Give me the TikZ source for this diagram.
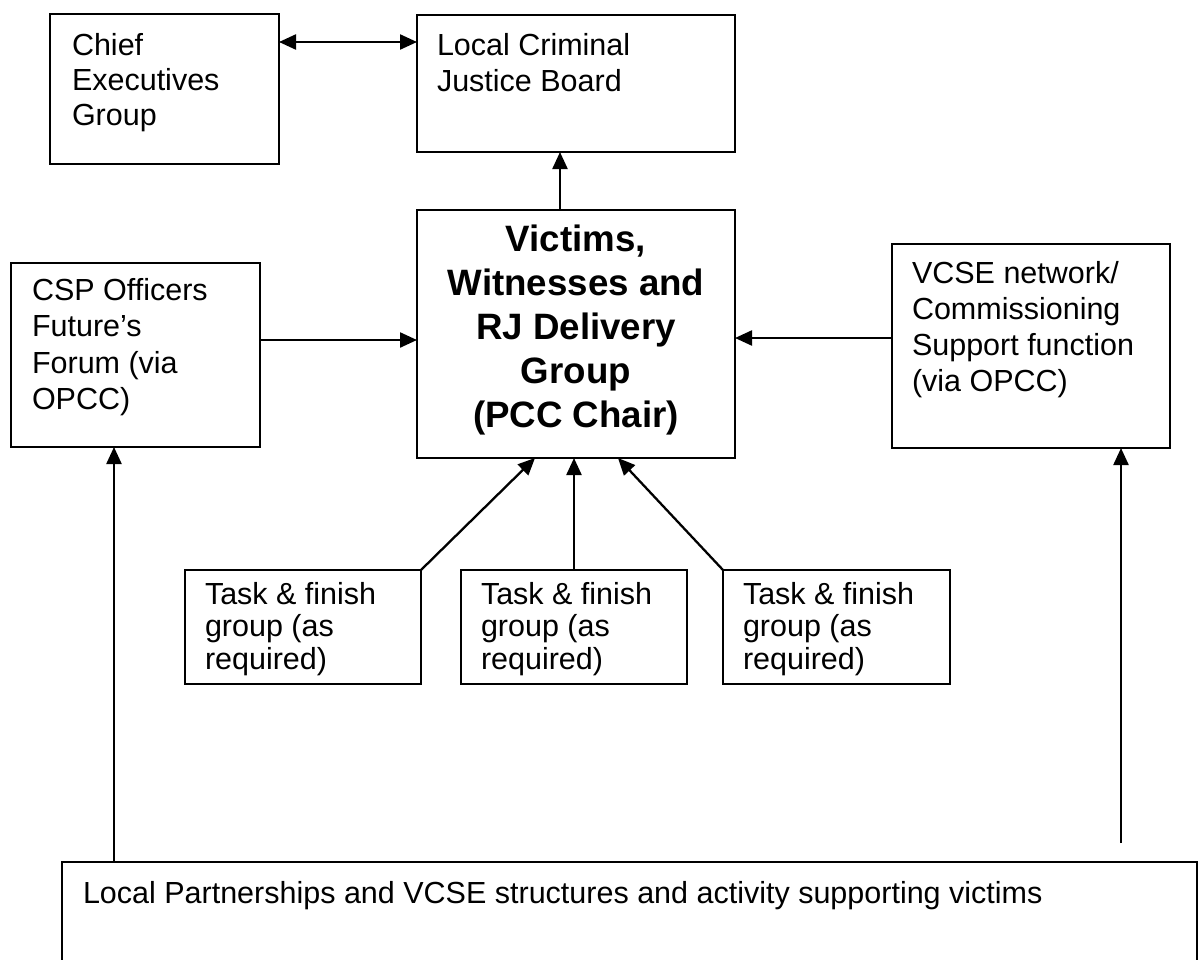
\documentclass[tikz,border=0pt]{standalone}
\usepackage{fontspec}
\setmainfont{Liberation Sans}
\usetikzlibrary{arrows.meta}
\tikzset{
  boxst/.style={draw=black, line width=2.7pt, inner sep=0pt, outer sep=0pt, fill=none},
  vicst/.style={boxst, line width=2.9pt},
  txt/.style={inner sep=0pt, outer sep=0pt, font=\fontsize{30.5}{35}\selectfont},
  btxt/.style={inner sep=0pt, outer sep=0pt, font=\fontsize{36.7}{44}\selectfont\bfseries},
  tip/.style={Triangle[length=17pt,width=15pt]},
  arr/.style={line width=2.3pt, -{Triangle[length=17pt,width=15pt]}},
  darr/.style={line width=2.3pt, {Triangle[length=17pt,width=15pt]}-{Triangle[length=17pt,width=15pt]}}
}
\newcommand\mybox[6][boxst]{\node[#1, minimum width={#5-#3}, minimum height={#6-#4}, anchor=north west] (#2) at (#3,#4) {};}
\begin{document}
\begin{tikzpicture}[x=1pt,y=-1pt]
\useasboundingbox (0,0) rectangle (1200,959);
\fill[white] (0,0) rectangle (1200,959);
% boxes
\mybox{chief}{50}{14}{279}{164}
\mybox{lcjb}{417}{15}{735}{152}
\mybox[vicst]{vic}{417}{210}{735}{458}
\mybox{csp}{11}{263}{260}{447}
\mybox{vcse}{892}{244}{1170}{448}
\mybox{taska}{185}{570}{421}{684}
\mybox{taskb}{461}{570}{687}{684}
\mybox{taskc}{723}{570}{950}{684}
\mybox{bot}{62}{862}{1197}{968}
% texts
\foreach \t [count=\i] in {Chief,Executives,Group}
  \node[txt, anchor=base west] (chieft\i) at (72,{55+35*(\i-1)}) {\t};
\foreach \t [count=\i] in {Local Criminal,Justice Board}
  \node[txt, anchor=base west] (lcjbt\i) at (437,{55+36*(\i-1)}) {\t};
\foreach \t [count=\i] in {{Victims,},Witnesses and,RJ Delivery,Group,(PCC Chair)}
  \node[btxt, anchor=base] (vict\i) at (576,{251+44*(\i-1)}) {\t};
\foreach \t [count=\i] in {CSP Officers,Future’s,Forum (via,OPCC)}
  \node[txt, anchor=base west] (cspt\i) at (32,{300+36.5*(\i-1)}) {\t};
\foreach \t [count=\i] in {VCSE network/,Commissioning,Support function,(via OPCC)}
  \node[txt, anchor=base west] (vcset\i) at (912,{283+36.3*(\i-1)}) {\t};
\foreach \x/\n in {205/a,481/b,743/c}{
  \foreach \t [count=\i] in {Task \& finish,group (as,required)}
    \node[txt, anchor=base west] (task\n t\i) at (\x,{604+32.5*(\i-1)}) {\t};
}
\node[txt, anchor=base west] (bott) at (83,903) {Local Partnerships and VCSE structures and activity supporting victims};
% connectors
\coordinate (ce) at ([yshift=-28pt]chief.north east);
\draw[darr] (ce) -- (ce -| lcjb.west);
\coordinate (vt) at ([xshift=-16pt]vic.north);
\draw[arr] (vt) -- (vt |- lcjb.south);
\coordinate (ceast) at ([yshift=15pt]csp.east);
\draw[arr] (ceast) -- (ceast -| vic.west);
\coordinate (veast) at ([yshift=8pt]vcse.west);
\draw[arr] (veast) -- (veast -| vic.east);
\draw[arr] (taska.north east) -- ([xshift=-41pt]vic.south);
\draw[arr] (taskb.north) -- (taskb.north |- vic.south);
\draw[arr] (taskc.north west) -- ([xshift=42pt]vic.south);
\coordinate (cs) at ([xshift=-21.5pt]csp.south);
\draw[arr] (cs |- bot.north) -- (cs);
\coordinate (vs) at ([xshift=90pt]vcse.south);
\path (vs |- bot.north) ++(0,-19) coordinate (vfree);
\draw[arr] (vfree) -- (vs);
\end{tikzpicture}
\end{document}
